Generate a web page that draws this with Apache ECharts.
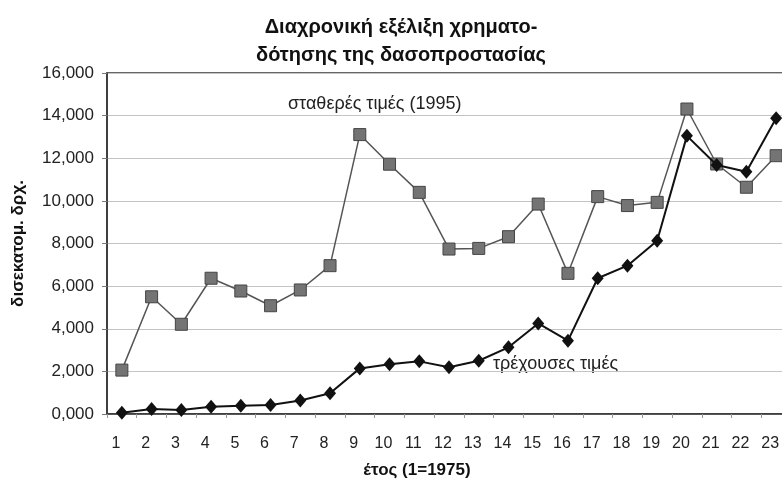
<!DOCTYPE html>
<html>
<head>
<meta charset="utf-8">
<script src="https://cdn.jsdelivr.net/npm/echarts@6/dist/echarts.min.js"></script>
<style>
  html, body { margin: 0; padding: 0; background: #ffffff; }
  #chart { width: 782px; height: 479px; }
</style>
</head>
<body>
<div id="chart"></div>
<script>
// Years 1..23 (1 = 1975)
const years = ['1','2','3','4','5','6','7','8','9','10','11','12','13','14','15','16','17','18','19','20','21','22','23'];

// Forest-protection funding, billion drachmas, constant 1995 prices
const constantPrices = [2.06, 5.50, 4.21, 6.37, 5.77, 5.08, 5.82, 6.96, 13.11, 11.72, 10.40, 7.74, 7.77, 8.32, 9.85, 6.60, 10.20, 9.78, 9.93, 14.31, 11.73, 10.64, 12.12];

// Same funding at current prices
const currentPrices = [0.06, 0.23, 0.19, 0.34, 0.39, 0.42, 0.63, 0.97, 2.14, 2.33, 2.47, 2.19, 2.50, 3.13, 4.25, 3.44, 6.37, 6.96, 8.13, 13.05, 11.68, 11.37, 13.88];

const titleLines = ['Διαχρονική εξέλιξη χρηματο-', 'δότησης της δασοπροστασίας'];
const yAxisName = 'δισεκατομ. δρχ.';
const xAxisName = 'έτος (1=1975)';
const constantLabel = 'σταθερές τιμές (1995)';
const currentLabel = 'τρέχουσες τιμές';

const FONT = '"Liberation Sans", Arial, sans-serif';
const chart = echarts.init(document.getElementById('chart'));

chart.setOption({
  animation: false,
  backgroundColor: '#ffffff',
  title: {
    text: titleLines.join('\n'),
    left: 396,
    top: 8,
    textAlign: 'center',
    textStyle: {
      fontFamily: FONT,
      fontWeight: 'bold',
      fontSize: 20,
      lineHeight: 28,
      color: '#111'
    }
  },
  grid: {
    left: 107,
    top: 73,
    bottom: 65,
    width: 684,
    containLabel: false,
    outerBoundsMode: 'none',
    show: true,
    borderColor: '#333',
    borderWidth: 1.5,
    backgroundColor: 'transparent'
  },
  xAxis: {
    type: 'category',
    data: years,
    boundaryGap: true,
    name: xAxisName,
    nameLocation: 'middle',
    nameGap: 48,
    nameTextStyle: {
      fontFamily: FONT, fontWeight: 'bold', fontSize: 17, color: '#111',
      padding: [0, 64, 0, 0]
    },
    axisLine: { lineStyle: { color: '#333', width: 1.5 } },
    axisTick: { show: true, length: 4, lineStyle: { color: '#999' } },
    axisLabel: {
      margin: 22,
      fontFamily: FONT, fontSize: 16, color: '#222',
      padding: [0, 12, 0, 0]
    },
    splitLine: { show: false }
  },
  yAxis: {
    type: 'value',
    min: 0,
    max: 16,
    interval: 2,
    name: yAxisName,
    nameLocation: 'middle',
    nameGap: 80,
    nameRotate: 90,
    nameTextStyle: { fontFamily: FONT, fontWeight: 'bold', fontSize: 17, color: '#111' },
    axisLine: { show: true, lineStyle: { color: '#333', width: 1.5 } },
    axisTick: { show: true, length: 5, lineStyle: { color: '#777' } },
    axisLabel: {
      margin: 13,
      fontFamily: FONT, fontSize: 17, color: '#222',
      formatter: v => v.toFixed(3).replace('.', ',')
    },
    splitLine: { show: true, lineStyle: { color: '#c4c4c4', width: 1 } }
  },
  series: [
    {
      name: constantLabel,
      type: 'line',
      data: constantPrices,
      symbol: 'rect',
      symbolSize: 12,
      itemStyle: { color: '#747474', borderColor: '#444', borderWidth: 1 },
      lineStyle: { color: '#555', width: 1.5 },
      z: 2
    },
    {
      name: currentLabel,
      type: 'line',
      data: currentPrices,
      symbol: 'diamond',
      symbolSize: [12, 14],
      itemStyle: { color: '#111' },
      lineStyle: { color: '#111', width: 2 },
      z: 3
    }
  ],
  graphic: [
    {
      type: 'text',
      left: 288,
      top: 95,
      style: { text: constantLabel, font: '18px ' + FONT, fill: '#222' }
    },
    {
      type: 'text',
      left: 493,
      top: 355,
      style: { text: currentLabel, font: '18px ' + FONT, fill: '#222' }
    }
  ]
});
</script>
</body>
</html>
